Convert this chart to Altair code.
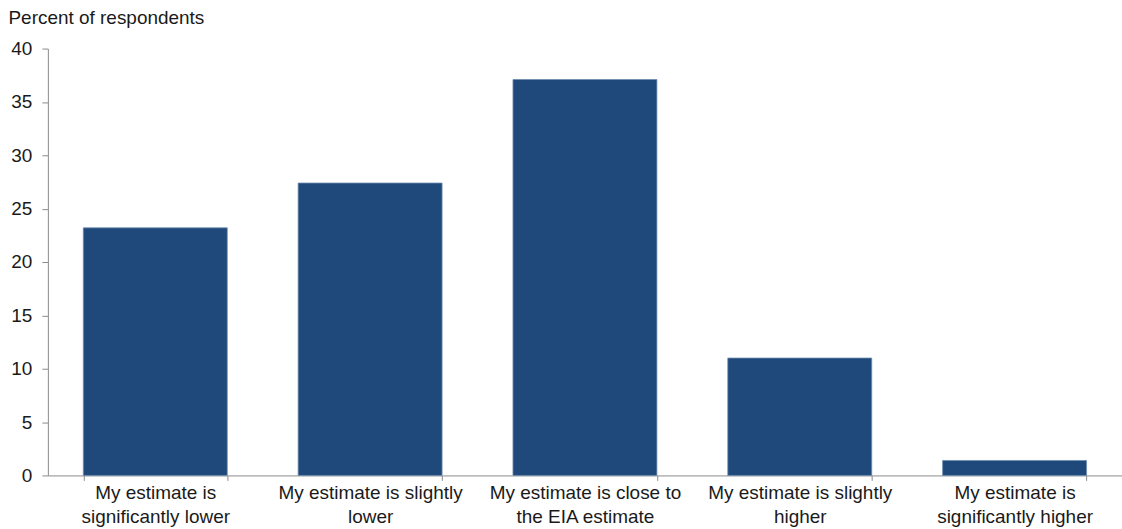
import altair as alt
import pandas as pd

# Survey responses: how respondents' own estimate compares with the EIA estimate
categories = [
    "My estimate is\nsignificantly lower",
    "My estimate is slightly\nlower",
    "My estimate is close to\nthe EIA estimate",
    "My estimate is slightly\nhigher",
    "My estimate is\nsignificantly higher",
]
percent = [23.2, 27.4, 37.1, 11.0, 1.4]
y_ticks = [0, 5, 10, 15, 20, 25, 30, 35, 40]

df = pd.DataFrame({"category": categories, "percent": percent})

FONT = "Liberation Sans"
TEXT = "#1a1a1a"
AXIS = "#8c8c8c"

chart = (
    alt.Chart(df)
    .mark_bar(color="#1f487b", stroke="#6d8bb0", strokeWidth=0.8)
    .encode(
        x=alt.X(
            "category:N",
            sort=categories,
            scale=alt.Scale(paddingInner=0.33, paddingOuter=0.165),
            axis=alt.Axis(
                title=None,
                labelAngle=0,
                labelExpr="split(datum.label, '\\n')",
                labelFont=FONT,
                labelFontSize=19,
                labelLineHeight=24,
                labelColor=TEXT,
                labelBaseline="top",
                labelPadding=3,
                labelLimit=300,
                tickBand="extent",
                tickSize=5,
                tickColor=AXIS,
                domainColor=AXIS,
            ),
        ),
        y=alt.Y(
            "percent:Q",
            scale=alt.Scale(domain=[0, 40], nice=False),
            axis=alt.Axis(
                values=y_ticks,
                title="Percent  of respondents",
                titleAngle=0,
                titleAlign="left",
                titleBaseline="alphabetic",
                titleX=-40,
                titleY=-25,
                titleFont=FONT,
                titleFontSize=19,
                titleFontWeight="normal",
                titleColor=TEXT,
                labelFont=FONT,
                labelFontSize=19,
                labelColor=TEXT,
                labelPadding=10,
                tickSize=6,
                tickColor=AXIS,
                domainColor=AXIS,
                grid=False,
            ),
        ),
    )
    .properties(
        width=1077,
        height=428,
        padding={"left": 48, "top": 48, "right": 0, "bottom": 53},
        autosize=alt.AutoSizeParams(type="none"),
    )
    .configure_view(stroke=None)
)

chart.save("out.html", embed_options={"renderer": "svg", "actions": False})
